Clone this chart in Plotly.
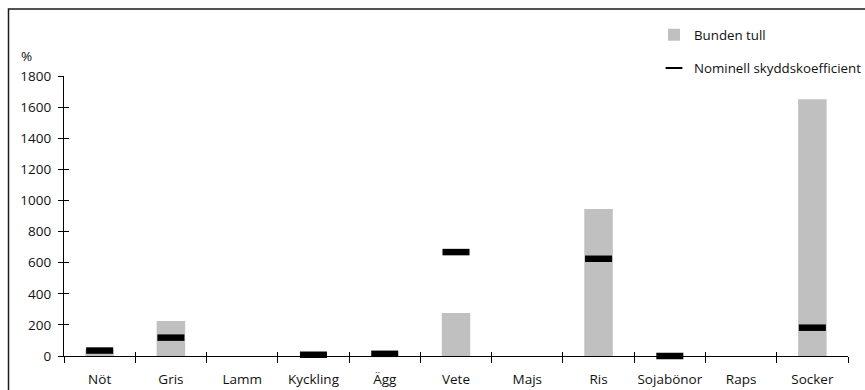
import plotly.graph_objects as go

# Produkter på kategoriaxeln
kategorier = ["Nöt", "Gris", "Lamm", "Kyckling", "Ägg", "Vete", "Majs", "Ris",
              "Sojabönor", "Raps", "Socker"]
# Bunden tull (%)
bunden_tull = [42, 225, None, None, None, 276, None, 945, None, None, 1650]
# Nominell skyddskoefficient (%)
nominell_skydd = [35, 118, None, 8, 14, 668, None, 625, 0, None, 182]

y_ticks = [0, 200, 400, 600, 800, 1000, 1200, 1400, 1600, 1800]

FONT = "Open Sans"
W, H = 865, 390
M_L, M_R, M_T, M_B = 64, 17, 75.5, 34
plot_w = W - M_L - M_R
plot_h = H - M_T - M_B

fig = go.Figure()

fig.add_trace(go.Bar(
    x=kategorier, y=bunden_tull, name="Bunden tull",
    marker=dict(color="#c0c0c0", line=dict(width=0)),
    width=0.4, legendgroup="a", xaxis="x", yaxis="y",
))

fig.add_trace(go.Scatter(
    x=kategorier, y=nominell_skydd, name="Nominell skyddskoefficient",
    mode="markers",
    marker=dict(symbol="line-ew", size=19.3, color="black",
                line=dict(color="black", width=6.5)),
    legendgroup="b", xaxis="x2", yaxis="y2", cliponaxis=False,
))

axis_font = dict(family=FONT, size=13.5, color="#111")
x_common = dict(
    type="category", categoryorder="array", categoryarray=kategorier,
    range=[-0.5, len(kategorier) - 0.5], tickson="boundaries",
    tickcolor="black", tickwidth=1.3, showgrid=False, zeroline=False,
    automargin=False, tickangle=0,
)
y_common = dict(
    range=[0, 1800], tickvals=y_ticks, tickcolor="black", tickwidth=1.3,
    showgrid=False, zeroline=False, automargin=False,
)

fig.update_layout(
    width=W, height=H,
    margin=dict(l=M_L, r=M_R, t=M_T, b=M_B, pad=0, autoexpand=False),
    paper_bgcolor="white", plot_bgcolor="white",
    font=axis_font,
    xaxis=dict(**x_common, ticks="outside", ticklen=6, showline=True,
               linecolor="black", linewidth=1.3, tickfont=axis_font,
               ticklabelstandoff=11, anchor="y"),
    yaxis=dict(**y_common, ticks="outside", ticklen=5, showline=True,
               linecolor="black", linewidth=1.3, tickfont=axis_font,
               ticklabelstandoff=4, anchor="x"),
    xaxis2=dict(**x_common, ticks="inside", ticklen=4, showline=False,
                showticklabels=False, overlaying="x", anchor="y2"),
    yaxis2=dict(**y_common, ticks="inside", ticklen=5, showline=False,
                showticklabels=False, overlaying="y", anchor="x2"),
    showlegend=True,
    legend=dict(
        x=(654 - M_L) / plot_w, y=(M_T + plot_h - 19) / plot_h,
        xanchor="left", yanchor="top", traceorder="grouped",
        tracegroupgap=13, itemsizing="constant",
        font=dict(family=FONT, size=13.3, color="#111"),
        bgcolor="rgba(0,0,0,0)",
    ),
    bargap=0.6,
)

# "%" above the value axis
fig.add_annotation(
    text="%", xref="paper", yref="paper",
    x=(26 - M_L) / plot_w, y=(M_T + plot_h - 55) / plot_h,
    showarrow=False, xanchor="center", yanchor="middle",
    font=dict(family=FONT, size=13.5, color="#111"),
)

# Ram runt diagramytan
fig.add_shape(
    type="rect", xref="paper", yref="paper",
    x0=(8.5 - M_L) / plot_w, x1=(W + 10 - M_L) / plot_w,
    y0=-(M_B + 10) / plot_h, y1=(M_T + plot_h - 8.5) / plot_h,
    line=dict(color="#1a1a1a", width=1.5), fillcolor="rgba(0,0,0,0)",
    layer="below",
)

fig.write_html("out.html")
